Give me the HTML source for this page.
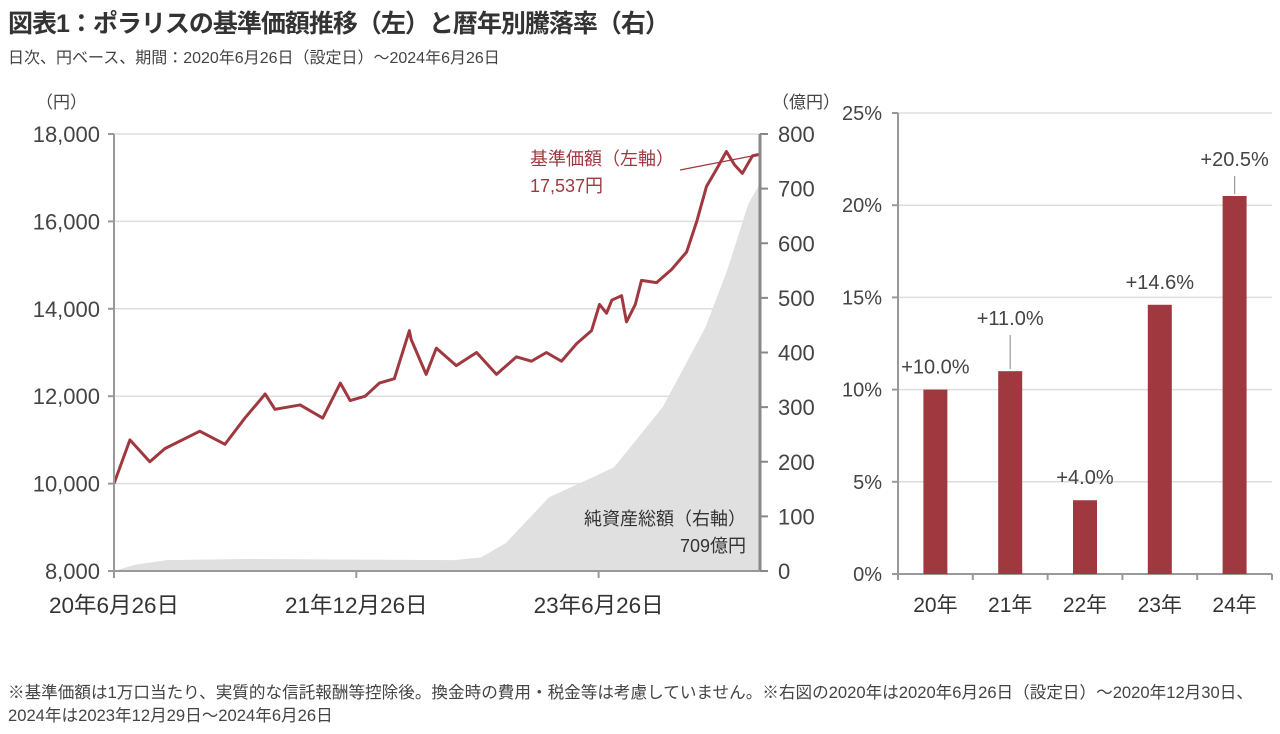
<!DOCTYPE html>
<html><head><meta charset="utf-8">
<style>
body{margin:0;width:1280px;height:734px;background:#fff;overflow:hidden;font-family:"Liberation Sans","Noto Sans CJK JP",sans-serif;color:#333}
#title{position:absolute;left:8px;top:4px;font-size:25px;font-weight:bold;color:#333;letter-spacing:-1px}
#sub{position:absolute;left:8px;top:44px;font-size:16px;color:#444}
#note{position:absolute;left:8px;top:681px;font-size:16.6px;color:#444;line-height:23px;width:1268px}
svg{position:absolute;left:0;top:0}
</style></head><body>
<div id="title">図表1：ポラリスの基準価額推移（左）と暦年別騰落率（右）</div>
<div id="sub">日次、円ベース、期間：2020年6月26日（設定日）～2024年6月26日</div>
<div id="note">※基準価額は1万口当たり、実質的な信託報酬等控除後。換金時の費用・税金等は考慮していません。※右図の2020年は2020年6月26日（設定日）～2020年12月30日、2024年は2023年12月29日～2024年6月26日</div>
<svg id="chart" width="1280" height="734"></svg>
<script>
const priceDays=[0,36,81,115,194,251,296,342,364,421,472,512,534,568,600,634,668,672,706,729,774,820,865,910,944,978,1012,1046,1080,1098,1114,1126,1148,1159,1179,1193,1227,1261,1295,1318,1340,1363,1385,1403,1421,1444,1461];
const priceVals=[10000,11000,10500,10800,11200,10900,11500,12050,11700,11800,11500,12300,11900,12000,12300,12400,13500,13300,12500,13100,12700,13000,12500,12900,12800,13000,12800,13200,13500,14100,13900,14200,14300,13700,14100,14650,14600,14900,15300,16000,16800,17200,17600,17300,17100,17500,17537];
const aumDays=[0,50,120,300,500,770,830,886,984,1084,1131,1241,1338,1387,1435,1461];
const aumVals=[0,12,20,22,21,20,25,51,135,172,190,300,447,551,673,709];
const leftTicks=[8000,10000,12000,14000,16000,18000];
const rightTicks=[0,100,200,300,400,500,600,700,800];
const xTickDays=[0,548,1096];
const xTickLabels=["20年6月26日","21年12月26日","23年6月26日"];
const barCats=["20年","21年","22年","23年","24年"];
const barVals=[10.0,11.0,4.0,14.6,20.5];
const barTicks=[0,5,10,15,20,25];

const svg=document.getElementById('chart');const NS='http://www.w3.org/2000/svg';
function mk(t,a,p){const e=document.createElementNS(NS,t);for(const k in a)e.setAttribute(k,a[k]);(p||svg).appendChild(e);return e;}
const X=d=>114+d*(760-114)/1461, YL=v=>571-(v-8000)*437/10000, YR=v=>571-v*437/800;
leftTicks.forEach(v=>{if(v>8000){const g=mk('line',{x1:114,x2:760,y1:YL(v),y2:YL(v),stroke:'#ddd','stroke-width':1.5});}});
let d='M'+X(0)+','+YR(0);aumDays.forEach((t,i)=>d+='L'+X(t)+','+YR(aumVals[i]));d+='L'+X(1461)+','+YR(0)+'Z';
const area=mk('path',{d:d,fill:'#e0e0e0'});


let pd='';priceDays.forEach((t,i)=>pd+=(i?'L':'M')+X(t)+','+YL(priceVals[i]));
const line=mk('path',{d:pd,fill:'none',stroke:'#a0393f','stroke-width':3,'stroke-linejoin':'round'});


mk('line',{x1:114,x2:114,y1:134,y2:571,stroke:'#999','stroke-width':2});
mk('line',{x1:760,x2:760,y1:134,y2:571,stroke:'#888','stroke-width':3});
mk('line',{x1:114,x2:760,y1:571,y2:571,stroke:'#999','stroke-width':2});
leftTicks.forEach(v=>{mk('line',{x1:108,x2:114,y1:YL(v),y2:YL(v),stroke:'#999','stroke-width':2});
 const t=mk('text',{x:100,y:YL(v)+8,'text-anchor':'end','font-size':22,fill:'#444'});t.textContent=v.toLocaleString('en-US');
 });
rightTicks.forEach(v=>{mk('line',{x1:760,x2:768,y1:YR(v),y2:YR(v),stroke:'#888','stroke-width':2});
 const t=mk('text',{x:778,y:YR(v)+8,'font-size':22,fill:'#444'});t.textContent=v;
 });
xTickDays.forEach((t0,i)=>{mk('line',{x1:X(t0),x2:X(t0),y1:571,y2:578,stroke:'#999','stroke-width':2});
 const t=mk('text',{x:X(t0),y:613,'text-anchor':'middle','font-size':22.5,fill:'#333'});t.textContent=xTickLabels[i];
 });
function txt(x,y,s,sz,fill,anchor,name){const t=mk('text',{x:x,y:y,'font-size':sz,fill:fill,'text-anchor':anchor||'start'});t.textContent=s;return t;}
txt(36,108,'（円）',17,'#444','start','left-axis-unit');
txt(772,108,'（億円）',17,'#444','start','right-axis-unit');
txt(530,165,'基準価額（左軸）',18,'#a0393f','start','price-label');
txt(530,192,'17,537円',18,'#a0393f','start','price-value');
mk('line',{x1:680,y1:170,x2:752,y2:156,stroke:'#a0393f','stroke-width':1.2});
txt(746,525,'純資産総額（右軸）',18,'#333','end','aum-label');
txt(746,552,'709億円',18,'#333','end','aum-value');
// bar chart
const bx0=898,bx1=1272,YB=v=>574-v*(574-113)/25;
barTicks.forEach(v=>{if(v>0){const g=mk('line',{x1:bx0,x2:bx1,y1:YB(v),y2:YB(v),stroke:'#ddd','stroke-width':1.5});}
 mk('line',{x1:bx0-6,x2:bx0,y1:YB(v),y2:YB(v),stroke:'#999','stroke-width':2});
 txt(bx0-16,YB(v)+7,v+'%',20,'#444','end','bar-tick-label');});
mk('line',{x1:bx0,x2:bx0,y1:113,y2:580,stroke:'#999','stroke-width':2});
mk('line',{x1:bx0-6,x2:bx1,y1:574,y2:574,stroke:'#999','stroke-width':2});
const bw=(bx1-bx0)/barCats.length;
barCats.forEach((c,i)=>{const cx=bx0+bw*(i+0.5);
 mk('line',{x1:bx0+bw*(i+1),x2:bx0+bw*(i+1),y1:574,y2:580,stroke:'#999','stroke-width':2});
 const r=mk('rect',{x:cx-12,y:YB(barVals[i]),width:24,height:574-YB(barVals[i]),fill:'#a0393f'});
 
 txt(cx,612,c,21,'#333','middle','bar-category-label');
 const big=(i==1||i==4);
 const ly=big?YB(barVals[i])-(i==1?46:30):YB(barVals[i])-16;
 if(big)mk('line',{x1:cx,x2:cx,y1:YB(barVals[i])-2,y2:ly+10,stroke:'#999','stroke-width':1.2});
 txt(cx,ly,'+'+barVals[i].toFixed(1)+'%',20,'#444','middle','bar-value-label');});
</script>
</body></html>
